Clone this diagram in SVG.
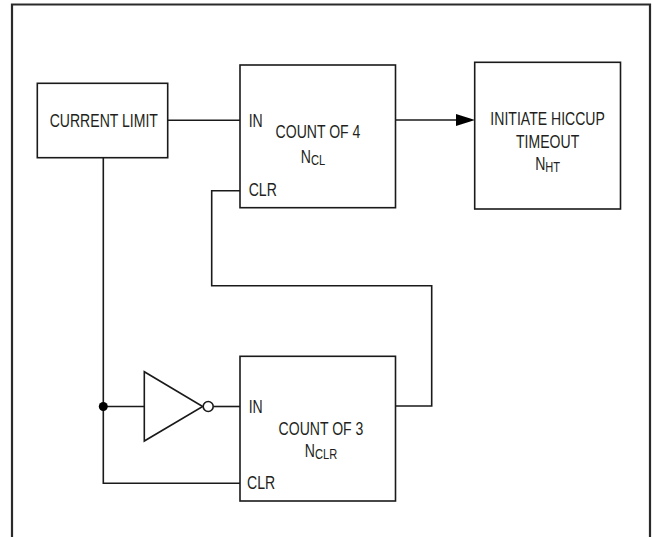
<svg xmlns="http://www.w3.org/2000/svg" width="652" height="537" viewBox="0 0 652 537">
<defs>
<style>
.frame{fill:none;stroke:#2a2a2a;stroke-width:2.2}
.box{fill:#fff;stroke:#1a1a1a;stroke-width:1.6}
.wire{fill:none;stroke:#1a1a1a;stroke-width:1.6}
text{font-family:"Liberation Sans",Arial,sans-serif;font-size:19px;fill:#231f20}
.mid{text-anchor:middle}
.sub{font-size:15px}
</style>
</defs>
<rect width="652" height="537" fill="#fff"/>
<path class="frame" d="M12,537 V4.5 H650 V537"/>
<g id="connectors">
<path class="wire" d="M168,120.3 H240"/>
<path class="wire" d="M395.5,120 H457"/>
<polygon points="456,114 475,120 456,126" fill="#000"/>
<path class="wire" d="M103.3,157.7 V483.3 H240"/>
<path class="wire" d="M103.3,406.5 H144.3"/>
<path class="wire" d="M213.3,406.5 H240"/>
<path class="wire" d="M395.5,406 H431.7 V285.7 H211.7 V190.7 H240"/>
<circle cx="103.3" cy="406.5" r="4.5" fill="#000"/>
</g>
<g id="current-limit">
<rect class="box" x="37.3" y="83.3" width="130.4" height="74.4"/>
<text class="mid" transform="translate(103.8,127) scale(0.74,1)">CURRENT LIMIT</text>
</g>
<g id="count4">
<rect class="box" x="240" y="65" width="155.5" height="142.7"/>
<text transform="translate(248.7,127) scale(0.74,1)">IN</text>
<text class="mid" transform="translate(318,138) scale(0.74,1)">COUNT OF 4</text>
<text class="mid" transform="translate(313,162.7) scale(0.74,1)">N<tspan class="sub" dy="2">CL</tspan></text>
<text transform="translate(248.7,196) scale(0.74,1)">CLR</text>
</g>
<g id="hiccup">
<rect class="box" x="474.7" y="62.3" width="145.8" height="146.7"/>
<text class="mid" transform="translate(547.6,125) scale(0.74,1)">INITIATE HICCUP</text>
<text class="mid" transform="translate(547.6,148) scale(0.74,1)">TIMEOUT</text>
<text class="mid" transform="translate(547.6,170) scale(0.74,1)">N<tspan class="sub" dy="2">HT</tspan></text>
</g>
<g id="inverter">
<polygon points="144.3,371.7 144.3,441 202.7,406.5" fill="#fff" stroke="#1a1a1a" stroke-width="1.6"/>
<circle cx="208.2" cy="406.5" r="5" fill="#fff" stroke="#1a1a1a" stroke-width="1.6"/>
</g>
<g id="count3">
<rect class="box" x="240" y="356.3" width="155.5" height="144.7"/>
<text transform="translate(248.7,413) scale(0.74,1)">IN</text>
<text class="mid" transform="translate(321,434.5) scale(0.74,1)">COUNT OF 3</text>
<text class="mid" transform="translate(321,457) scale(0.74,1)">N<tspan class="sub" dy="2">CLR</tspan></text>
<text transform="translate(247,488.5) scale(0.74,1)">CLR</text>
</g>
</svg>
